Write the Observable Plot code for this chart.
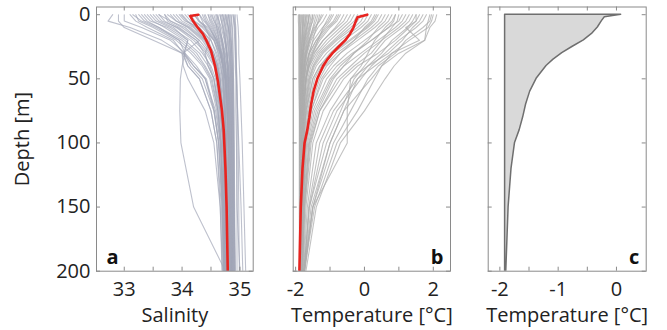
<!DOCTYPE html>
<html><head><meta charset="utf-8">
<script src="https://cdn.jsdelivr.net/npm/d3@7"></script>
<script src="https://cdn.jsdelivr.net/npm/@observablehq/plot@0.6"></script>
<style>
body{margin:0;background:#fff;}
#wrap{position:relative;width:667px;height:330px;overflow:hidden;background:#fff;}
#wrap svg{position:absolute;top:0;}
</style></head><body><div id="wrap"></div>
<script>
// depth levels (m) shared by the individual profiles
const depths = [0, 5, 10, 20, 30, 40, 50, 75, 100, 150, 200];

// individual salinity profiles (values at the depths above)
const salinityProfiles = [
  [34.85,34.86,34.87,34.88,34.88,34.89,34.89,34.90,34.90,34.90,34.90],
  [34.78,34.79,34.80,34.82,34.83,34.84,34.85,34.86,34.86,34.87,34.87],
  [34.90,34.91,34.92,34.93,34.93,34.94,34.94,34.95,34.95,34.95,34.95],
  [34.70,34.72,34.74,34.76,34.78,34.79,34.80,34.81,34.82,34.83,34.84],
  [34.95,34.96,34.97,34.98,34.98,34.99,35.00,35.02,35.04,35.07,35.10],
  [34.60,34.62,34.65,34.70,34.73,34.75,34.76,34.78,34.79,34.80,34.80],
  [34.40,34.45,34.52,34.62,34.68,34.72,34.74,34.76,34.77,34.78,34.79],
  [34.20,34.30,34.45,34.60,34.65,34.70,34.72,34.75,34.76,34.77,34.78],
  [34.00,34.10,34.25,34.45,34.55,34.62,34.66,34.70,34.72,34.75,34.76],
  [33.80,33.90,34.10,34.35,34.50,34.58,34.62,34.68,34.71,34.74,34.75],
  [33.60,33.70,33.90,34.20,34.42,34.55,34.60,34.66,34.70,34.73,34.74],
  [33.40,33.50,33.70,34.05,34.30,34.45,34.55,34.64,34.68,34.72,34.74],
  [33.20,33.25,33.50,33.90,34.15,34.35,34.48,34.60,34.66,34.71,34.73],
  [33.00,33.00,33.30,33.80,34.05,34.25,34.40,34.55,34.63,34.70,34.72],
  [32.80,32.72,33.10,33.65,34.00,34.10,34.30,34.50,34.60,34.68,34.71],
  [32.90,32.90,33.00,33.50,34.00,34.02,34.10,34.40,34.55,34.66,34.70],
  [33.30,33.40,33.60,33.95,34.05,34.00,33.97,33.96,33.98,34.20,34.75],
  [34.30,34.35,34.40,34.50,34.58,34.64,34.68,34.73,34.76,34.80,34.82],
  [34.50,34.55,34.60,34.68,34.74,34.78,34.80,34.83,34.85,34.86,34.88],
  [33.50,33.60,33.85,34.10,34.04,34.20,34.40,34.58,34.66,34.72,34.75],
  [33.90,34.00,34.20,34.40,34.52,34.60,34.65,34.72,34.75,34.78,34.80],
  [34.10,34.20,34.35,34.55,34.65,34.70,34.74,34.78,34.80,34.82,34.83],
  [34.65,34.68,34.70,34.74,34.77,34.80,34.82,34.84,34.86,34.88,34.89],
  [34.75,34.77,34.80,34.84,34.86,34.87,34.88,34.88,34.89,34.90,34.92],
  [33.70,33.75,33.95,34.25,34.38,34.48,34.55,34.62,34.67,34.70,34.72],
  [34.55,34.58,34.60,34.64,34.67,34.70,34.72,34.75,34.77,34.79,34.80],
  [33.10,33.20,33.40,33.85,34.02,34.20,34.42,34.56,34.63,34.69,34.72],
  [34.80,34.82,34.83,34.85,34.86,34.86,34.87,34.88,34.88,34.89,34.90],
  [34.35,34.40,34.48,34.58,34.66,34.71,34.75,34.79,34.81,34.83,34.85],
  [33.95,34.05,34.30,34.50,34.60,34.66,34.70,34.74,34.77,34.79,34.80],
  [34.88,34.89,34.90,34.91,34.92,34.92,34.93,34.93,34.94,34.95,35.00],
  [34.25,34.30,34.40,34.56,34.63,34.68,34.71,34.74,34.75,34.76,34.77],
  [33.60,33.80,34.00,34.30,34.02,34.10,34.30,34.50,34.60,34.66,34.69],
  [34.45,34.50,34.56,34.64,34.70,34.74,34.77,34.80,34.82,34.84,34.86],
  [34.70,34.73,34.75,34.78,34.80,34.82,34.83,34.85,34.86,34.87,34.88],
  [34.82,34.83,34.84,34.85,34.86,34.87,34.87,34.88,34.89,34.90,34.91],
  [34.62,34.64,34.66,34.69,34.72,34.74,34.76,34.78,34.80,34.82,34.83],
  [34.15,34.22,34.38,34.55,34.62,34.67,34.70,34.73,34.75,34.77,34.78],
  [33.85,33.95,34.15,34.40,34.55,34.62,34.66,34.70,34.73,34.76,34.77],
  [33.45,33.55,33.80,34.15,34.35,34.50,34.58,34.66,34.70,34.74,34.76],
  [33.25,33.35,33.60,34.00,34.25,34.40,34.52,34.62,34.68,34.72,34.74],
  [34.58,34.60,34.63,34.68,34.72,34.75,34.78,34.81,34.83,34.85,34.86],
  [34.92,34.92,34.93,34.93,34.94,34.94,34.95,34.96,34.97,34.98,34.99],
  [34.72,34.74,34.76,34.79,34.81,34.83,34.84,34.85,34.86,34.87,34.87],
  [34.05,34.15,34.30,34.48,34.40,34.45,34.55,34.66,34.72,34.76,34.78],
  [33.70,33.80,34.05,34.30,34.48,34.58,34.64,34.69,34.72,34.75,34.76],
  [34.38,34.42,34.50,34.60,34.67,34.72,34.75,34.78,34.80,34.82,34.84],
  [34.84,34.85,34.86,34.87,34.88,34.88,34.89,34.89,34.90,34.91,34.92],
  [34.48,34.52,34.58,34.66,34.72,34.76,34.79,34.82,34.84,34.85,34.86],
  [33.35,33.45,33.75,34.10,34.03,34.15,34.35,34.55,34.64,34.70,34.73],
  [34.66,34.68,34.71,34.75,34.78,34.80,34.81,34.83,34.84,34.85,34.86],
  [34.22,34.28,34.42,34.58,34.66,34.71,34.74,34.77,34.79,34.81,34.82],
  [33.55,33.65,33.92,34.25,34.45,34.57,34.63,34.68,34.71,34.74,34.75],
  [34.76,34.78,34.80,34.82,34.84,34.85,34.86,34.87,34.88,34.89,34.90],
  [34.88,34.90,34.91,34.92,34.92,34.93,34.94,34.96,34.98,35.02,35.05],
  [34.52,34.56,34.62,34.70,34.75,34.78,34.80,34.82,34.83,34.84,34.85],
  [33.15,33.30,33.55,33.95,34.20,34.38,34.50,34.62,34.67,34.71,34.73],
  [34.68,34.70,34.72,34.75,34.77,34.78,34.79,34.80,34.81,34.82,34.82],
  [34.30,34.38,34.47,34.60,34.68,34.73,34.76,34.79,34.81,34.83,34.84],
  [33.98,34.08,34.22,34.42,34.53,34.60,34.65,34.70,34.72,34.74,34.75],
  [34.60,34.64,34.68,34.73,34.77,34.80,34.82,34.84,34.85,34.86,34.87],
  [34.80,34.81,34.82,34.83,34.84,34.85,34.86,34.87,34.88,34.89,34.90],
  [33.75,33.90,34.12,34.38,34.52,34.60,34.64,34.69,34.72,34.75,34.77],
  [34.45,34.48,34.54,34.62,34.69,34.74,34.77,34.80,34.82,34.83,34.84],
  [34.74,34.76,34.78,34.80,34.82,34.83,34.84,34.86,34.87,34.88,34.89]
];

// individual temperature profiles (°C at the depths above)
const temperatureProfiles = [
  [-1.85,-1.85,-1.86,-1.86,-1.87,-1.87,-1.87,-1.88,-1.88,-1.88,-1.88],
  [-1.70,-1.72,-1.75,-1.78,-1.80,-1.82,-1.83,-1.84,-1.85,-1.86,-1.87],
  [-1.50,-1.55,-1.60,-1.68,-1.74,-1.77,-1.80,-1.82,-1.84,-1.85,-1.86],
  [-1.20,-1.30,-1.45,-1.60,-1.70,-1.75,-1.78,-1.81,-1.83,-1.85,-1.86],
  [-0.80,-0.90,-1.10,-1.40,-1.60,-1.70,-1.75,-1.80,-1.82,-1.84,-1.85],
  [-0.40,-0.50,-0.70,-1.10,-1.40,-1.60,-1.68,-1.76,-1.80,-1.83,-1.85],
  [0.00,-0.10,-0.30,-0.80,-1.20,-1.45,-1.58,-1.72,-1.78,-1.82,-1.84],
  [0.40,0.30,0.10,-0.40,-0.90,-1.25,-1.45,-1.65,-1.74,-1.80,-1.83],
  [0.80,0.70,0.50,0.00,-0.50,-0.90,-1.20,-1.55,-1.70,-1.78,-1.82],
  [1.20,1.10,0.90,0.40,-0.10,-0.60,-0.95,-1.40,-1.62,-1.75,-1.80],
  [1.60,1.50,1.30,0.90,0.40,-0.20,-0.60,-1.20,-1.50,-1.70,-1.78],
  [2.00,1.95,1.85,1.30,0.80,0.30,-0.20,-0.90,-1.30,-1.62,-1.74],
  [2.10,2.05,1.90,1.75,1.20,0.86,0.60,0.00,-0.70,-1.40,-1.70],
  [1.90,1.85,1.80,1.75,1.00,0.50,0.20,-0.60,-1.00,-1.50,-1.76],
  [-1.90,-1.90,-1.90,-1.90,-1.90,-1.90,-1.90,-1.89,-1.89,-1.89,-1.89],
  [-1.60,-1.62,-1.65,-1.72,-1.78,-1.80,-1.82,-1.84,-1.85,-1.86,-1.87],
  [-1.00,-1.10,-1.20,-1.35,-1.50,-1.62,-1.70,-1.78,-1.82,-1.84,-1.85],
  [-0.20,-0.30,-0.50,-0.90,-1.30,-1.50,-1.62,-1.74,-1.79,-1.83,-1.85],
  [0.60,0.50,0.30,-0.20,-0.70,-1.10,-1.30,-1.60,-1.72,-1.79,-1.83],
  [1.00,0.95,0.80,0.50,0.20,-0.30,-0.70,-1.30,-1.55,-1.73,-1.80],
  [1.40,1.30,1.10,0.60,0.30,0.00,-0.30,-0.69,-1.10,-1.60,-1.76],
  [-1.80,-1.80,-1.81,-1.82,-1.83,-1.84,-1.85,-1.86,-1.87,-1.87,-1.88],
  [-1.40,-1.45,-1.50,-1.60,-1.68,-1.74,-1.78,-1.82,-1.84,-1.85,-1.86],
  [-0.60,-0.70,-0.85,-1.20,-1.45,-1.60,-1.70,-1.78,-1.81,-1.84,-1.85],
  [0.20,0.10,-0.10,-0.60,-1.00,-1.30,-1.50,-1.70,-1.77,-1.82,-1.84],
  [1.80,1.70,1.50,1.00,0.60,0.20,-0.10,-0.80,-1.20,-1.60,-1.76],
  [-1.75,-1.76,-1.78,-1.80,-1.82,-1.83,-1.84,-1.85,-1.86,-1.87,-1.87],
  [-1.88,-1.88,-1.88,-1.88,-1.88,-1.88,-1.88,-1.88,-1.87,-1.87,-1.87],
  [-1.30,-1.35,-1.40,-1.50,-1.60,-1.65,-1.70,-1.76,-1.80,-1.83,-1.84],
  [0.90,0.80,0.60,0.30,0.10,-0.10,-0.40,-0.50,-0.50,-1.50,-1.73],
  [1.50,1.50,1.20,1.60,0.80,0.50,0.30,-0.20,-0.80,-1.45,-1.75],
  [-0.90,-1.00,-1.15,-1.40,-1.60,-1.70,-1.75,-1.80,-1.83,-1.85,-1.86],
  [-1.65,-1.68,-1.70,-1.75,-1.79,-1.81,-1.83,-1.85,-1.86,-1.87,-1.87],
  [0.30,0.20,0.00,-0.30,-0.70,-1.00,-1.25,-1.55,-1.72,-1.80,-1.83],
  [1.10,1.00,0.70,0.20,-0.30,-0.70,-1.00,-1.45,-1.65,-1.77,-1.81],
  [-1.92,-1.92,-1.91,-1.91,-1.90,-1.90,-1.90,-1.89,-1.89,-1.89,-1.88],
  [-1.78,-1.79,-1.80,-1.82,-1.83,-1.84,-1.85,-1.86,-1.86,-1.87,-1.87],
  [-1.60,-1.63,-1.68,-1.74,-1.78,-1.80,-1.82,-1.84,-1.85,-1.86,-1.86],
  [-1.45,-1.50,-1.58,-1.66,-1.72,-1.76,-1.79,-1.82,-1.84,-1.85,-1.86],
  [-1.10,-1.20,-1.35,-1.55,-1.66,-1.72,-1.76,-1.80,-1.82,-1.84,-1.85],
  [-0.70,-0.80,-1.00,-1.30,-1.52,-1.64,-1.71,-1.78,-1.81,-1.84,-1.85],
  [-0.30,-0.40,-0.60,-1.00,-1.35,-1.55,-1.65,-1.75,-1.80,-1.83,-1.85],
  [0.10,0.00,-0.20,-0.70,-1.10,-1.40,-1.55,-1.70,-1.77,-1.82,-1.84],
  [0.50,0.40,0.20,-0.30,-0.80,-1.15,-1.38,-1.62,-1.73,-1.80,-1.83],
  [0.90,0.85,0.70,0.20,-0.35,-0.80,-1.10,-1.50,-1.68,-1.78,-1.82],
  [1.30,1.20,1.00,0.50,0.00,-0.40,-0.80,-1.30,-1.58,-1.74,-1.80],
  [1.70,1.60,1.40,1.10,0.70,0.10,-0.40,-1.00,-1.40,-1.66,-1.77],
  [-1.83,-1.83,-1.84,-1.85,-1.85,-1.86,-1.86,-1.87,-1.87,-1.88,-1.88],
  [-1.72,-1.73,-1.75,-1.77,-1.80,-1.82,-1.83,-1.85,-1.86,-1.86,-1.87],
  [-1.55,-1.58,-1.62,-1.70,-1.76,-1.79,-1.81,-1.83,-1.85,-1.86,-1.86],
  [-1.35,-1.40,-1.48,-1.62,-1.70,-1.75,-1.78,-1.81,-1.83,-1.85,-1.86],
  [-0.95,-1.05,-1.22,-1.48,-1.62,-1.70,-1.75,-1.80,-1.82,-1.84,-1.85],
  [-0.50,-0.60,-0.80,-1.20,-1.48,-1.62,-1.70,-1.77,-1.81,-1.84,-1.85],
  [-1.88,-1.88,-1.87,-1.87,-1.86,-1.86,-1.86,-1.86,-1.86,-1.86,-1.86],
  [-1.68,-1.70,-1.72,-1.76,-1.79,-1.81,-1.83,-1.84,-1.85,-1.86,-1.87],
  [-1.25,-1.32,-1.42,-1.58,-1.68,-1.74,-1.77,-1.81,-1.83,-1.85,-1.86],
  [0.70,0.60,0.40,0.10,-0.30,-0.60,-0.90,-1.35,-1.60,-1.76,-1.81],
  [1.50,1.40,1.25,0.80,0.50,0.10,-0.20,-0.60,-1.00,-1.55,-1.75],
  [-0.10,-0.20,-0.40,-0.85,-1.25,-1.48,-1.60,-1.73,-1.79,-1.83,-1.85],
  [-1.76,-1.77,-1.79,-1.81,-1.83,-1.84,-1.85,-1.86,-1.86,-1.87,-1.87],
  [-1.50,-1.52,-1.56,-1.64,-1.72,-1.77,-1.80,-1.83,-1.84,-1.85,-1.86],
  [1.95,1.90,1.70,1.20,0.90,0.40,0.10,-0.40,-0.90,-1.50,-1.75],
  [-0.75,-0.85,-1.05,-1.35,-1.55,-1.66,-1.72,-1.78,-1.81,-1.84,-1.85],
  [-1.62,-1.64,-1.67,-1.73,-1.78,-1.80,-1.82,-1.84,-1.85,-1.86,-1.87],
  [0.35,0.25,0.05,-0.45,-0.95,-1.30,-1.50,-1.68,-1.76,-1.81,-1.84]
];

// mean salinity profile
const meanSalDepth = [0, 1, 5, 10, 15, 20, 28, 40, 52, 75, 90, 120, 150, 200];
const meanSal      = [34.28, 34.14, 34.19, 34.27, 34.36, 34.42, 34.50, 34.57, 34.62, 34.69, 34.72, 34.75, 34.77, 34.79];

// mean temperature profile
const meanTempDepth = [0, 2, 5, 10, 15, 20, 25, 30, 35, 40, 50, 60, 70, 80, 90, 100, 120, 150, 200];
const meanTemp      = [0.08, -0.20, -0.25, -0.32, -0.42, -0.56, -0.75, -0.93, -1.08, -1.20, -1.37, -1.48, -1.55, -1.60, -1.66, -1.74, -1.80, -1.85, -1.89];
const freezingTemp = -1.91;

// ticks and labels
const depthTicks = [0, 50, 100, 150, 200];
const salTicks = [33, 33.5, 34, 34.5, 35];
const salLabels = [33, 34, 35];
const tempTicksB = [-2, -1, 0, 1, 2];
const tempLabelsB = [-2, 0, 2];
const tempTicksC = [-2, -1.5, -1, -0.5, 0];
const tempLabelsC = [-2, -1, 0];

function toRows(profiles) {
  const rows = [];
  profiles.forEach((p, i) => p.forEach((v, j) => rows.push({id: i, depth: depths[j], value: v})));
  return rows;
}
const meanSalRows = meanSal.map((v, i) => ({depth: meanSalDepth[i], value: v}));
const meanTempRows = meanTemp.map((v, i) => ({depth: meanTempDepth[i], value: v}));

const FONT = "'Open Sans', 'DejaVu Sans', sans-serif";
const H = 330, MT = 6.5, MB = 59.3;
const frameH = H - MT - MB;
const TK = 4;
const frameColor = "#8a8a8a";
const textColor = "#222";

function panel({left, width, ml, mr, xDomain, xTicks, xLabels, xLabel, yLabels, marks, letter, letterSide}) {
  const fw = width - ml - mr;
  const svg = Plot.plot({
    width, height: H,
    marginTop: MT, marginBottom: MB, marginLeft: ml, marginRight: mr,
    style: {fontFamily: FONT, fontSize: "20px", color: textColor, background: "transparent"},
    x: {domain: xDomain},
    y: {domain: [-6, 200], reverse: true},
    marks: [
      ...marks,
      Plot.tickX(xTicks, {x: d => d, insetTop: frameH - TK, stroke: frameColor}),
      Plot.tickX(xTicks, {x: d => d, insetBottom: frameH - TK, stroke: frameColor}),
      Plot.tickY(depthTicks, {y: d => d, insetRight: fw - TK, stroke: frameColor}),
      Plot.tickY(depthTicks, {y: d => d, insetLeft: fw - TK, stroke: frameColor}),
      Plot.frame({stroke: frameColor, strokeWidth: 1}),
      Plot.axisX(xLabels, {tickSize: 0, tickPadding: 11, tickFormat: d => String(d), fill: textColor,
        label: xLabel, labelAnchor: "center", labelArrow: "none", labelOffset: 51}),
      yLabels
        ? Plot.axisY(depthTicks, {tickSize: 0, tickPadding: 6, tickFormat: d => String(d), fill: textColor,
            label: "Depth [m]", labelAnchor: "center", labelArrow: "none", labelOffset: 82})
        : Plot.axisY({ticks: [], label: null}),
      Plot.text([letter], {
        frameAnchor: letterSide === "left" ? "bottom-left" : "bottom-right",
        textAnchor: letterSide === "left" ? "start" : "end",
        dx: letterSide === "left" ? 10 : -7, dy: -7,
        fontWeight: "bold", fontSize: 20, fill: "#111", lineAnchor: "bottom"
      })
    ]
  });
  svg.style.left = left + "px";
  document.getElementById("wrap").appendChild(svg);
}

// Panel a: salinity
panel({
  left: 0, width: 270, ml: 96, mr: 17.3,
  xDomain: [32.52, 35.23], xTicks: salTicks, xLabels: salLabels, xLabel: "Salinity", yLabels: true,
  letter: "a", letterSide: "left",
  marks: [
    Plot.line(toRows(salinityProfiles), {x: "value", y: "depth", z: "id", stroke: "#a3a7b8", strokeOpacity: 0.7, strokeWidth: 1.1, clip: true}),
    Plot.line(meanSalRows, {x: "value", y: "depth", stroke: "#e8231f", strokeWidth: 2.6, clip: true})
  ]
});

// Panel b: temperature profiles
panel({
  left: 270, width: 200, ml: 22.7, mr: 20,
  xDomain: [-2.07, 2.5], xTicks: tempTicksB, xLabels: tempLabelsB, xLabel: "Temperature [°C]", yLabels: false,
  letter: "b", letterSide: "right",
  marks: [
    Plot.line(toRows(temperatureProfiles), {x: "value", y: "depth", z: "id", stroke: "#adadad", strokeOpacity: 0.75, strokeWidth: 1.1, clip: true}),
    Plot.line(meanTempRows, {x: "value", y: "depth", stroke: "#e8231f", strokeWidth: 2.6, clip: true})
  ]
});

// Panel c: mean temperature above freezing
panel({
  left: 470, width: 197, ml: 17.7, mr: 21.3,
  xDomain: [-2.2, 0.51], xTicks: tempTicksC, xLabels: tempLabelsC, xLabel: "Temperature [°C]", yLabels: false,
  letter: "c", letterSide: "right",
  marks: [
    Plot.areaX(meanTempRows, {x1: () => freezingTemp, x2: "value", y: "depth", fill: "#d9d9d9", stroke: "#6f6f6f", strokeWidth: 1.5, clip: true})
  ]
});
</script></body></html>
